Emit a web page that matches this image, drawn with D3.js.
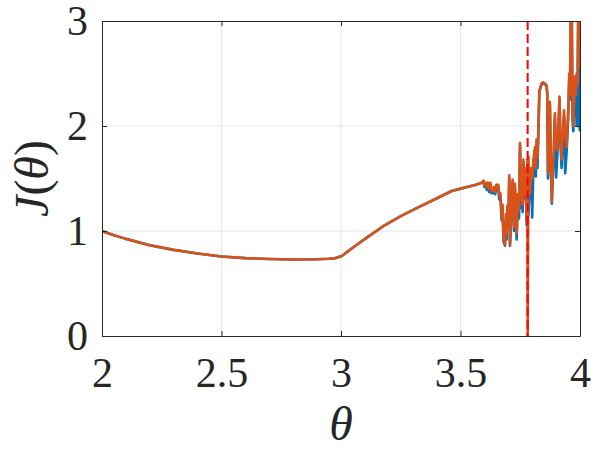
<!DOCTYPE html>
<html><head><meta charset="utf-8">
<script src="https://cdn.jsdelivr.net/npm/d3@7"></script>
<style>body{margin:0;background:#fff}svg{display:block}</style>
</head><body>
<script>
// ---- data ----
const xTicks = [2, 2.5, 3, 3.5, 4];
const yTicks = [0, 1, 2, 3];
const xTickLabels = ["2", "2.5", "3", "3.5", "4"];
const yTickLabels = ["0", "1", "2", "3"];
const thetaStar = 3.781;

// smooth part shared by both series
const thetaSmooth = [2.00,2.05,2.10,2.20,2.30,2.40,2.50,2.60,2.70,2.80,2.90,2.95,2.975,3.003,3.03,3.059,3.114,3.184,3.254,3.323,3.393,3.463,3.505,3.561,3.580];
const jSmooth     = [1.00,0.96,0.925,0.865,0.82,0.785,0.757,0.742,0.733,0.729,0.731,0.735,0.740,0.762,0.808,0.857,0.946,1.057,1.146,1.225,1.302,1.381,1.406,1.438,1.452];

// noisy part
const thetaNoisy = [3.590,3.596,3.600,3.605,3.610,3.615,3.620,3.625,3.630,3.637,3.640,3.645,3.650,3.658,3.662,3.667,3.672,3.676,3.680,3.686,3.690,3.693,3.696,3.700,3.704,3.707,3.710,3.714,3.718,3.722,3.724,3.728,3.732,3.735,3.740,3.745,3.749,3.753,3.757,3.760,3.763,3.767,3.771,3.777,3.780,3.781,3.784,3.788,3.791,3.795,3.800,3.805,3.812,3.815,3.818,3.822,3.826,3.830,3.840,3.847,3.856,3.860,3.863,3.866,3.870,3.874,3.878,3.882,3.886,3.890,3.895,3.900,3.905,3.910,3.914,3.918,3.923,3.928,3.933,3.938,3.944,3.950,3.955,3.958,3.962,3.965,3.969,3.972,3.979,3.983,3.986,3.990,3.993,3.996,4.000];
const jBlue = [1.46,1.47,1.42,1.44,1.39,1.45,1.37,1.43,1.36,1.36,1.40,1.35,1.42,1.42,1.30,1.34,1.10,1.22,0.90,0.86,1.10,0.92,1.20,1.05,1.50,0.86,1.00,1.30,1.46,1.15,1.00,1.40,1.10,0.92,1.30,1.12,1.82,1.22,1.46,1.18,1.66,1.30,1.56,1.05,1.65,1.12,1.15,1.40,1.30,1.55,1.13,1.62,1.78,1.52,1.80,1.60,1.94,2.33,2.40,2.41,2.39,2.38,2.30,1.50,1.70,2.20,1.62,1.26,1.50,1.70,2.08,1.51,1.72,1.95,2.26,1.85,1.60,1.86,2.10,1.55,1.75,2.05,2.45,2.25,3.20,3.20,2.05,1.95,2.42,2.25,2.00,2.35,3.20,2.03,1.95];
const jOrange = [1.46,1.48,1.44,1.46,1.42,1.46,1.40,1.46,1.38,1.39,1.42,1.37,1.44,1.44,1.34,1.36,1.14,1.25,0.92,0.87,1.16,0.98,1.24,1.10,1.53,0.87,1.05,1.35,1.49,1.20,1.04,1.45,1.15,0.98,1.35,1.20,1.84,1.30,1.50,1.25,1.68,1.35,1.60,1.10,1.68,0.00,1.71,1.45,1.36,1.60,1.50,1.68,1.80,1.60,1.87,1.70,1.96,2.34,2.41,2.415,2.40,2.39,2.32,1.55,1.75,2.23,1.70,1.28,1.55,1.75,2.12,1.80,1.77,2.00,2.28,1.90,1.68,1.90,2.15,1.95,1.80,2.10,2.50,2.30,3.20,3.20,2.12,2.00,2.47,2.30,2.50,2.40,3.20,3.20,2.56];

// ---- layout ----
const W = 598, H = 449;
const m = {left: 102, right: 18, top: 21, bottom: 113};
const iw = W - m.left - m.right, ih = H - m.top - m.bottom;
const font = "'Liberation Serif', 'Times New Roman', serif";

const svg = d3.select("body").append("svg").attr("width", W).attr("height", H);
const x = d3.scaleLinear().domain([2, 4]).range([m.left, m.left + iw]);
const y = d3.scaleLinear().domain([0, 3]).range([m.top + ih, m.top]);

svg.append("defs").append("clipPath").attr("id", "clip")
  .append("rect").attr("x", m.left).attr("y", m.top).attr("width", iw).attr("height", ih);

// grid
const grid = svg.append("g");
grid.selectAll(".gx").data(xTicks.slice(1, -1)).join("line")
  .attr("x1", d => x(d)).attr("x2", d => x(d)).attr("y1", m.top).attr("y2", m.top + ih)
  .attr("stroke", "#e6e6e6").attr("stroke-width", 1);
grid.selectAll(".gy").data(yTicks.slice(1, -1)).join("line")
  .attr("y1", d => y(d)).attr("y2", d => y(d)).attr("x1", m.left).attr("x2", m.left + iw)
  .attr("stroke", "#e6e6e6").attr("stroke-width", 1);

// series
const toPts = (th, v) => th.map((t, i) => [t, v[i]]);
const blueData = toPts(thetaSmooth, jSmooth).concat(toPts(thetaNoisy, jBlue));
const orangeData = toPts(thetaSmooth, jSmooth).concat(toPts(thetaNoisy, jOrange));
const line = d3.line().x(d => x(d[0])).y(d => y(d[1]));
const plot = svg.append("g").attr("clip-path", "url(#clip)");
plot.append("path").datum(blueData).attr("d", line).attr("fill", "none")
  .attr("stroke", "#0072BD").attr("stroke-width", 2.6).attr("stroke-linejoin", "round");
plot.append("path").datum(orangeData).attr("d", line).attr("fill", "none")
  .attr("stroke", "#D95319").attr("stroke-width", 2.6).attr("stroke-linejoin", "round");
plot.append("line").attr("x1", x(thetaStar)).attr("x2", x(thetaStar))
  .attr("y1", m.top).attr("y2", m.top + ih)
  .attr("stroke", "#ff0000").attr("stroke-width", 2).attr("stroke-dasharray", "9,4");

// axes
const axCol = "#262626";
const ax = d3.axisBottom(x).tickValues(xTicks).tickFormat((d, i) => xTickLabels[i]).tickSizeInner(-5).tickSizeOuter(0);
const gxA = svg.append("g").attr("transform", `translate(0,${m.top + ih})`).call(ax);
const ay = d3.axisLeft(y).tickValues(yTicks).tickFormat((d, i) => yTickLabels[i]).tickSizeInner(-5).tickSizeOuter(0);
const gyA = svg.append("g").attr("transform", `translate(${m.left},0)`).call(ay);
const axTop = d3.axisTop(x).tickValues(xTicks).tickFormat("").tickSizeInner(-5).tickSizeOuter(0);
svg.append("g").attr("transform", `translate(0,${m.top})`).call(axTop);
const axRight = d3.axisRight(y).tickValues(yTicks).tickFormat("").tickSizeInner(-5).tickSizeOuter(0);
svg.append("g").attr("transform", `translate(${m.left + iw},0)`).call(axRight);
svg.selectAll(".domain").attr("stroke", axCol).attr("stroke-width", 1);
svg.selectAll(".tick line").attr("stroke", axCol);
gxA.selectAll("text").attr("font-family", font).attr("font-size", 42).attr("fill", axCol)
  .attr("dy", null).attr("y", 51);
gyA.selectAll("text").attr("font-family", font).attr("font-size", 42).attr("fill", axCol)
  .attr("dy", "0.33em").attr("x", -14);

// labels
svg.append("text").attr("x", x(3)).attr("y", 440).attr("text-anchor", "middle")
  .attr("font-family", font).attr("font-style", "italic").attr("font-size", 48).attr("fill", axCol).text("θ");
svg.append("text").attr("transform", `translate(48,${m.top + ih / 2}) rotate(-90)`).attr("text-anchor", "middle")
  .attr("font-family", font).attr("font-size", 48).attr("fill", axCol)
  .html('<tspan font-style="italic">J</tspan>(<tspan font-style="italic">θ</tspan>)');
</script>
</body></html>
